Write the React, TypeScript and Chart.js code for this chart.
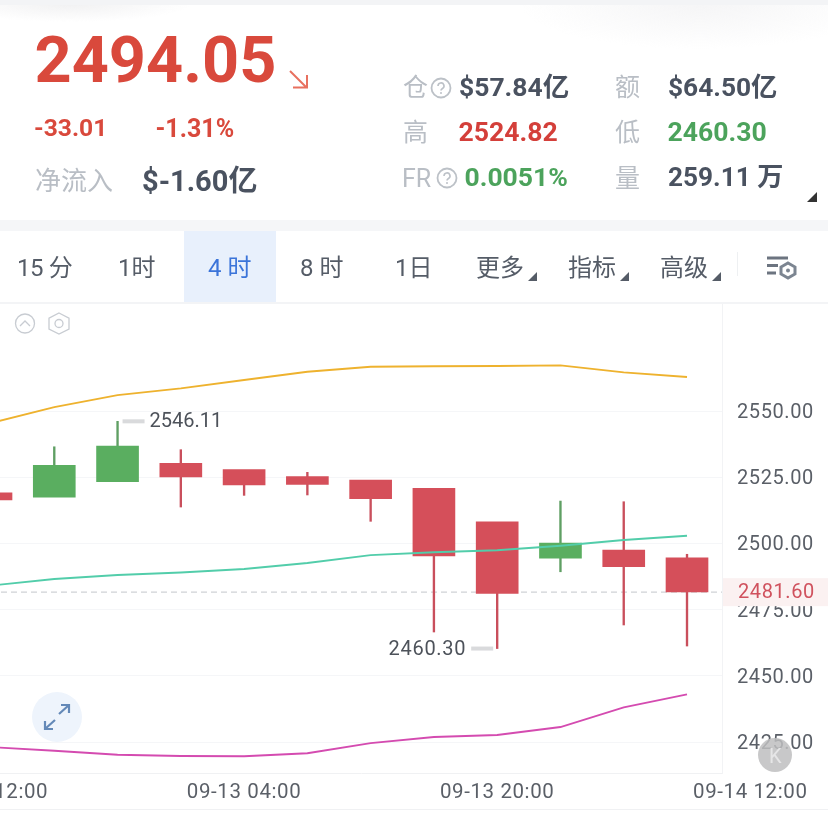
import React, { useEffect, useRef } from "react";
import { Chart, registerables } from "chart.js";

Chart.register(...registerables);

const opens = [2519.15, 2517.5, 2523.3, 2530.25, 2527.85, 2525.2, 2523.95, 2520.8, 2508.2, 2494.4, 2497.5, 2494.6];
const closes = [2516.4, 2529.5, 2536.8, 2525.1, 2522.05, 2522.3, 2516.9, 2495.25, 2481.15, 2500.15, 2491.2, 2481.65];
const highs = [2519, 2536.5, 2546.11, 2535.4, 2527.5, 2526.85, 2523.6, 2520.5, 2507.9, 2516, 2515.75, 2495.9];
const lows = [2516.6, 2517.8, 2523.6, 2513.75, 2518.15, 2518.3, 2508.35, 2466.55, 2460.3, 2489.3, 2469.2, 2461.25];
const yellowLine = [2545.5, 2551.5, 2556, 2558.55, 2561.7, 2564.85, 2566.75, 2566.9, 2567, 2567.25, 2564.6, 2562.85];
const tealLine = [2484.1, 2486.55, 2488.05, 2489, 2490.35, 2492.6, 2495.6, 2496.65, 2497.4, 2499.15, 2501.3, 2502.9];
const pinkLine = [2423.1, 2421.7, 2420.2, 2419.7, 2419.6, 2420.75, 2424.6, 2426.9, 2427.65, 2430.65, 2438.1, 2443];
const priceTicks = [2425, 2450, 2475, 2500, 2525, 2550];
const timeTicks = [0, 4, 8, 12];
const timeLabels = ["09-12 12:00", "09-13 04:00", "09-13 20:00", "09-14 12:00"];
const lastPrice = 2481.6;
const highMark = { index: 2, value: 2546.11 };
const lowMark = { index: 8, value: 2460.3 };

const RED = "#d54f5a";
const GREEN = "#5aae60";
const FONT = "Roboto, 'Noto Sans CJK SC', sans-serif";

const overlayPlugin = {
  id: "overlay",
  beforeDraw(chart: any) {
    chart.ctx.letterSpacing = "0.6px";
  },
  afterDraw(chart: any) {
    const { ctx, scales } = chart;
    const { x, y } = scales;
    ctx.save();
    ctx.font = `20px ${FONT}`;
    ctx.textBaseline = "middle";
    ctx.fillStyle = "#d9dadc";
    const hx = x.getPixelForValue(highMark.index);
    const hy = y.getPixelForValue(highMark.value);
    ctx.fillRect(hx + 5, hy - 2, 22, 4);
    const lx = x.getPixelForValue(lowMark.index);
    const ly = y.getPixelForValue(lowMark.value);
    ctx.fillRect(lx - 26, ly - 2, 22, 4);
    ctx.fillStyle = "#4d525a";
    ctx.textAlign = "left";
    ctx.letterSpacing = "0px";
    ctx.fillText(highMark.value.toFixed(2), hx + 32, hy + 1);
    ctx.letterSpacing = "0.7px";
    ctx.textAlign = "right";
    ctx.fillText(lowMark.value.toFixed(2), lx - 31, ly + 1);
    const py = y.getPixelForValue(lastPrice);
    ctx.fillStyle = "#fbf1f1";
    ctx.fillRect(chart.chartArea.right + 1, py - 14, 106, 28);
    ctx.fillStyle = "#d0525e";
    ctx.textAlign = "left";
    ctx.letterSpacing = "0.6px";
    ctx.fillText(lastPrice.toFixed(2), 738, py + 1);
    ctx.restore();
  },
};

function T({ x, y, s, c, w, t, r }: any) {
  return (
    <span
      style={{
        position: "absolute",
        left: x,
        top: y,
        fontSize: s,
        color: c,
        fontWeight: w || 400,
        transform: "translateY(-50%)",
        whiteSpace: "nowrap",
        lineHeight: 1,
        fontFamily: FONT,
        letterSpacing: r || 0,
      }}
    >
      {t}
    </span>
  );
}

function Help({ x, y }: any) {
  return (
    <svg style={{ position: "absolute", left: x, top: y - 11 }} width="22" height="22" viewBox="0 0 22 22">
      <circle cx="11" cy="11" r="9.5" fill="none" stroke="#bcc1c7" strokeWidth="1.8" />
      <path d="M8 9a3 3 0 1 1 4.5 2.5c-1 .6-1.5 1-1.5 2" fill="none" stroke="#bcc1c7" strokeWidth="1.6" />
      <circle cx="11" cy="16" r="1" fill="#bcc1c7" />
    </svg>
  );
}

function Corner({ x, y, s, c }: any) {
  return (
    <svg style={{ position: "absolute", left: x, top: y }} width={s} height={s} viewBox="0 0 10 10">
      <path d="M10 0V10H0Z" fill={c} />
    </svg>
  );
}

export default function App() {
  const ref = useRef<HTMLCanvasElement>(null);
  useEffect(() => {
    const idx = opens.map((_, i) => i);
    const colors = opens.map((o, i) => (closes[i] >= o ? GREEN : RED));
    const wickColors = opens.map((o, i) => (closes[i] >= o ? "#5f9f63" : "#c94f5c"));
    const line = (values: number[], color: string, order: number) => ({
      type: "line",
      data: idx.map((i) => ({ x: i, y: values[i] })),
      borderColor: color,
      borderWidth: 1.9,
      pointRadius: 0,
      tension: 0,
      order,
    });
    const chart = new Chart(ref.current!, {
      type: "bar",
      data: {
        datasets: [
          line(yellowLine, "#eeb22e", 0),
          line(tealLine, "#52cdaa", 0),
          line(pinkLine, "#d44bb0", 0),
          {
            type: "bar",
            data: idx.map((i) => ({ x: i, y: [Math.min(opens[i], closes[i]), Math.max(opens[i], closes[i])] })),
            backgroundColor: colors,
            barThickness: 42,
            grouped: false,
            order: 1,
          },
          {
            type: "bar",
            data: idx.map((i) => ({ x: i, y: [lows[i], highs[i]] })),
            backgroundColor: wickColors,
            barThickness: 1.7,
            grouped: false,
            order: 2,
          },
          {
            type: "line",
            data: [
              { x: 0, y: lastPrice },
              { x: 12, y: lastPrice },
            ],
            borderColor: "#cfd2d6",
            borderWidth: 1.2,
            borderDash: [6, 4],
            pointRadius: 0,
            order: 3,
          },
        ],
      } as any,
      options: {
        animation: false,
        responsive: false,
        events: [],
        layout: { padding: { top: 303, left: 0, right: 0, bottom: 0 } },
        plugins: { legend: { display: false }, tooltip: { enabled: false } },
        scales: {
          x: {
            type: "linear",
            min: 0.1422,
            max: 11.553,
            offset: false,
            grid: { display: false, drawTicks: false },
            border: { display: true, color: "#f0f1f3", width: 1 },
            ticks: {
              autoSkip: false,
              maxRotation: 0,
              minRotation: 0,
              padding: 8,
              color: "#5a5f67",
              font: { family: FONT, size: 20.5 },
              callback: (v: any) => timeLabels[timeTicks.indexOf(v)] ?? "",
            },
            afterBuildTicks: (s: any) => {
              s.ticks = timeTicks.map((value) => ({ value }));
            },
            afterFit: (s: any) => {
              s.height = 41;
              s.paddingLeft = 0;
              s.paddingRight = 0;
            },
          },
          y: {
            type: "linear",
            position: "right",
            min: 2413.3,
            max: 2590.8,
            grid: { color: "#f5f6f8", lineWidth: 1, drawTicks: false },
            border: { display: true, color: "#f2f3f5", width: 1 },
            ticks: {
              padding: 15,
              labelOffset: 2,
              color: "#5a5f67",
              font: { family: FONT, size: 20 },
              callback: (v: any) => Number(v).toFixed(2),
            },
            afterBuildTicks: (s: any) => {
              s.ticks = priceTicks.map((value) => ({ value }));
            },
            afterFit: (s: any) => {
              s.width = 106;
              s.paddingTop = 0;
              s.paddingBottom = 0;
            },
          },
        },
      } as any,
      plugins: [overlayPlugin as any],
    });
    return () => chart.destroy();
  }, []);

  const grey = "#b9bec5";
  const dark = "#4a5260";
  const red = "#d9493c";
  const green = "#4ca35c";
  const tab = "#555c67";
  return (
    <div style={{ position: "absolute", left: 0, top: 0, width: 828, height: 814, overflow: "hidden", background: "#fff" }}>
      <style>{"html,body{margin:0;background:#fff;overflow:hidden}"}</style>
      <canvas ref={ref} width={828} height={814} style={{ position: "absolute", left: 0, top: 0, display: "block" }} />
      <div style={{ position: "absolute", left: 0, top: 0, width: 828, height: 70, background: "radial-gradient(120px 18px at 70px 4px, #f1f1f2, rgba(255,255,255,0)), radial-gradient(180px 45px at 700px 4px, #f5f5f6, rgba(255,255,255,0))" }} />
      <div style={{ position: "absolute", left: 0, top: 0, width: 828, height: 5, background: "#f3f4f6" }} />
      <div style={{ position: "absolute", left: 0, top: 220, width: 828, height: 11, background: "#f5f6f8" }} />
      <div style={{ position: "absolute", left: 184, top: 231, width: 92, height: 71, background: "#e8f0fc" }} />
      <div style={{ position: "absolute", left: 0, top: 302, width: 828, height: 2, background: "#f3f4f6" }} />
      <div style={{ position: "absolute", left: 0, top: 809, width: 828, height: 1, background: "#f0f1f3" }} />

      <T x={34.5} y={60} s={64.8} c={red} w={700} t="2494.05" />
      <svg style={{ position: "absolute", left: 287, top: 68 }} width="22" height="22" viewBox="0 0 22 22">
        <path d="M3 3L19 19M6 19.5H20V7" fill="none" stroke="#e8705f" strokeWidth="2" />
      </svg>
      <T x={34} y={128} s={24.6} c={red} w={700} t="-33.01" />
      <T x={155.5} y={128} s={25} c={red} w={700} t="-1.31%" />
      <T x={35} y={181} s={26} c={grey} t="净流入" />
      <T x={142} y={181} s={29} c={dark} w={700} t="$-1.60亿" />

      <T x={403} y={87} s={25} c={grey} t="仓" />
      <Help x={430} y={88} />
      <T x={459} y={87} s={26.5} c={dark} w={700} t="$57.84亿" />
      <T x={615} y={87} s={25} c={grey} t="额" />
      <T x={668} y={87} s={26.3} c={dark} w={700} t="$64.50亿" />
      <T x={403} y={132} s={25} c={grey} t="高" />
      <T x={458.5} y={132} s={26.6} c="#d43f3a" w={700} t="2524.82" />
      <T x={615} y={132} s={25} c={grey} t="低" />
      <T x={667.5} y={132} s={26.6} c={green} w={700} t="2460.30" />
      <T x={402} y={178} s={25} c={grey} t="FR" />
      <Help x={436} y={178} />
      <T x={464.5} y={177} s={26.5} c={green} w={700} t="0.0051%" />
      <T x={615} y={178} s={25} c={grey} t="量" />
      <T x={668} y={177} s={26.2} c={dark} w={700} t="259.11 万" />
      <Corner x={807} y={192} s={10} c="#333" />

      <T x={17} y={268} s={24} c={tab} t="15 分" r={-0.4} />
      <T x={118} y={268} s={24} c={tab} t="1时" />
      <T x={208} y={268} s={24} c="#3b74d9" t="4 时" />
      <T x={300} y={268} s={24} c={tab} t="8 时" />
      <T x={395} y={268} s={24} c={tab} t="1日" />
      <T x={476} y={268} s={24} c={tab} t="更多" />
      <T x={568} y={268} s={24} c={tab} t="指标" />
      <T x={660} y={268} s={24} c={tab} t="高级" />
      <Corner x={528} y={272} s={9} c={tab} />
      <Corner x={620} y={272} s={9} c={tab} />
      <Corner x={712} y={272} s={9} c={tab} />
      <div style={{ position: "absolute", left: 737, top: 252, width: 1, height: 24, background: "#eef0f2" }} />
      <svg style={{ position: "absolute", left: 766, top: 254 }} width="33" height="27" viewBox="0 0 33 27">
        <path d="M1 4H22M1 11.5H12M1 19H10" stroke="#6c7480" strokeWidth="3" />
        <path d="M22 9L29 13V20L22 24L15 20V13Z" fill="none" stroke="#7c8591" strokeWidth="3" />
        <circle cx="22" cy="16.5" r="2" fill="#7c8591" />
      </svg>

      <svg style={{ position: "absolute", left: 14, top: 312 }} width="58" height="24" viewBox="0 0 58 24">
        <circle cx="11" cy="11.5" r="9.5" fill="none" stroke="#c8ccd2" strokeWidth="1.3" />
        <path d="M6 14L11 9L16 14" fill="none" stroke="#c8ccd2" strokeWidth="1.3" />
        <path d="M45 1L55 6.2V17L45 22L35 17V6.2Z" fill="none" stroke="#c8ccd2" strokeWidth="1.3" />
        <circle cx="45" cy="11.5" r="4" fill="none" stroke="#c8ccd2" strokeWidth="1.3" />
      </svg>

      <svg style={{ position: "absolute", left: 32, top: 692 }} width="50" height="50" viewBox="0 0 50 50">
        <circle cx="25" cy="25" r="25" fill="#eef4fc" />
        <path d="M27 22L37 13M29 13H37V21M13 37L23 28M13 29V37H21" fill="none" stroke="#6489b8" strokeWidth="2.2" />
      </svg>

      <div style={{ position: "absolute", left: 758, top: 738, width: 34, height: 34, borderRadius: 17, background: "rgba(190,190,192,0.85)" }} />
      <T x={769} y={756} s={20} c="#e6e6e7" w={400} t="K" />
    </div>
  );
}
